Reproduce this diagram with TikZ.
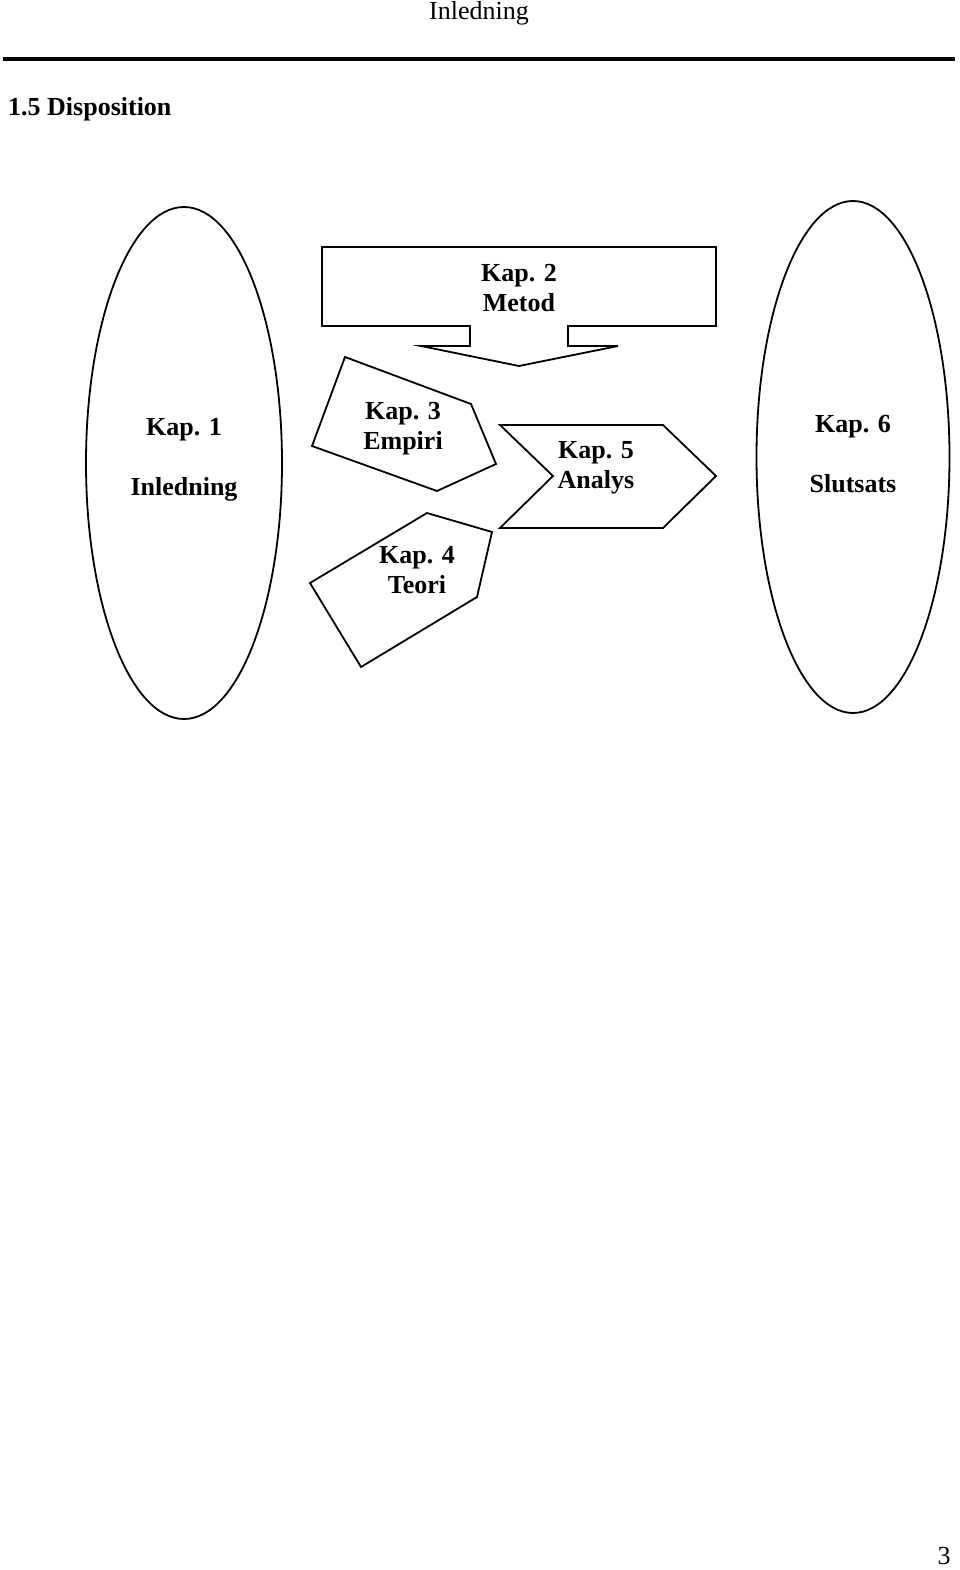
\documentclass[tikz,border=0pt]{standalone}
\usepackage{fontspec}
\setmainfont{Liberation Serif}
\usepackage{tikz}
\usetikzlibrary{positioning, shapes.geometric}

\begin{document}
\begin{tikzpicture}[x=1pt, y=-1pt,
    kapshape/.style={draw, line width=1.8pt, line join=miter},
    kaptext/.style={font=\fontsize{26}{30}\selectfont\bfseries, align=center, inner sep=0pt},
    pagetext/.style={font=\fontsize{26}{30}\selectfont, inner sep=0pt}]
  \useasboundingbox (0,0) rectangle (960,1570);

  % page head
  \node[pagetext] (head) at (479,13) {Inledning};
  \draw[line width=3.5pt] (3,59) -- (955,59);
  \node[pagetext, font=\fontsize{26}{30}\selectfont\bfseries, anchor=west] (title) at (8,109) {1.5 Disposition};

  % the two ellipses
  \node[ellipse, kapshape, minimum width=196pt, minimum height=512pt, inner sep=0pt] (kap1) at (184,463) {};
  \node[ellipse, kapshape, minimum width=193pt, minimum height=512pt, inner sep=0pt] (kap6) at (853,457) {};
  \node[kaptext] (kap1txt) at (184,460) {Kap. 1\\[30pt]Inledning};
  \node[kaptext] (kap6txt) at (853,454) {Kap. 6\\[30pt]Slutsats};

  % Kap. 2, down arrow
  \draw[kapshape] (322,247) -- (716,247) -- (716,326) -- (568,326) -- (568,346)
    -- (618,346) -- (519,366) -- (421,346) -- (470,346) -- (470,326) -- (322,326) -- cycle;
  \node[kaptext] (kap2) at (519,288) {Kap. 2\\Metod};

  % Kap. 3 and Kap. 4, pentagons
  \draw[kapshape] (345,357) -- (471,404) -- (496,464) -- (437,491) -- (312,446) -- cycle;
  \node[kaptext] (kap3) at (403,429) {Kap. 3\\Empiri};
  \draw[kapshape] (427,513) -- (492,532) -- (477,597) -- (361,667) -- (310,583) -- cycle;
  \node[kaptext] (kap4) at (417,570) {Kap. 4\\Teori};

  % Kap. 5, chevron
  \draw[kapshape] (500,425) -- (663,425) -- (716,476) -- (663,528) -- (500,528) -- (553,476) -- cycle;
  \node[kaptext] (kap5) at (596,468) {Kap. 5\\Analys};

  % page number
  \node[pagetext] (pagenr) at (944,1556) {3};
\end{tikzpicture}
\end{document}
